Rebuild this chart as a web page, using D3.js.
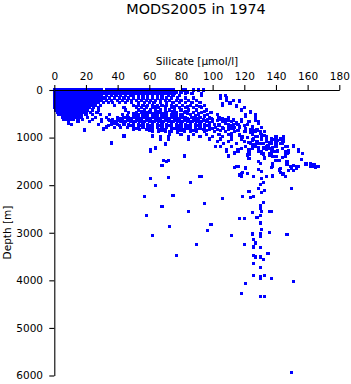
<!DOCTYPE html>
<html><head><meta charset="utf-8">
<script src="https://cdn.jsdelivr.net/npm/d3@7"></script>
<style>body{margin:0;background:#fff}svg{display:block}text{font-family:"DejaVu Sans",sans-serif}</style>
</head><body><svg id="c" width="351" height="384"></svg>
<script>
const title = "MODS2005 in 1974";
const xLabel = "Silicate [µmol/l]";
const yLabel = "Depth [m]";
const xTicks = [0,20,40,60,80,100,120,140,160,180];
const yTicks = [0,1000,2000,3000,4000,5000,6000];

// upper water column: sampled depth levels and silicate values at each
const levelDepths = [0,40,80,120,170,220,270,320,370,420,470,520,570,620,670,720,780,830,880,930,980,1030,1080,1130,1180,1230,1280,1330,
  345,445,495,545,595,645,695,750,805,855];
const levelSilicate = [
 [0,2,4,6,8,10,12,14,16,18,20,22,24,26,28,30,33,35,37,39,41,43,45,47,49,51,53,55,57,59,61,63,65,67,69,71,73,75,81,83,88,91,94],
 [0,2,4,6,8,10,12,14,16,18,20,22,24,26,28,30,32,34,36,38,40,42,44,46,48,50,52,54,56,58,60,62,64,66,68,70,72,74,77,80,84],
 [0,2,4,6,8,10,12,14,16,18,20,22,24,26,28,30,32,34,37,40,42,44,46,48,51,54,56,58,60,63,66,68,70,73,76,87,93],
 [0,2,4,6,8,10,12,14,16,18,20,22,24,26,28,30,33,36,39,42,45,48,50,53,56,59,62,65,68,72,75,79,105,108],
 [0,2,4,6,8,10,12,14,16,18,20,22,24,26,28,30,32,35,38,41,44,47,50,53,56,59,62,65,68,71,74,78,83,88,105,109],
 [0,2,4,6,8,10,12,14,16,18,20,22,24,26,28,30,33,36,40,43,46,49,52,55,58,61,64,67,70,73,77,80,85,90,109,113,117],
 [0,2,4,6,8,10,12,14,16,18,20,22,24,26,28,31,34,37,41,45,49,53,57,60,63,67,71,75,79,83,87,92,111],
 [0,2,4,6,8,10,12,14,16,18,20,22,24,26,29,38,50,53,56,59,62,65,68,71,74,77,81,86,90,95,106,115],
 [0,2,4,6,8,10,12,14,16,18,20,22,25,28,44,52,55,58,62,66,70,74,79,83,88,93,120],
 [1,3,5,7,9,11,13,15,17,19,21,24,28,45,53,57,61,64,67,70,73,76,80,85,90,96,118],
 [2,4,6,8,10,12,14,16,18,20,23,27,47,52,55,58,61,64,67,71,77,82,88,93,99,124],
 [3,5,7,9,11,13,15,17,20,24,29,35,43,50,53,56,59,62,65,68,71,74,77,80,86,91,97,103,121,127],
 [5,7,9,11,13,15,17,21,26,33,40,44,47,50,53,56,59,62,65,68,71,74,77,80,83,87,92,98,104,110],
 [6,8,10,12,15,18,24,30,34,37,40,43,46,49,52,55,58,61,64,67,70,73,76,79,82,85,88,91,94,97,100,104,108,113,118,127],
 [9,15,22,30,36,39,42,45,48,51,54,57,60,63,66,69,72,75,78,81,84,87,90,93,96,100,106,112,118,123,129],
 [11,28,36,40,44,47,50,53,56,59,62,65,68,71,74,77,80,83,86,89,92,95,98,101,104,110,116,122],
 [33,38,42,46,50,53,56,59,62,65,68,71,74,77,80,83,86,89,92,95,98,102,106,110,114,117,125,131],
 [19,31,50,54,58,62,66,70,74,78,82,86,90,94,98,103,110,124,128],
 [62,66,70,74,78,82,86,90,95,101,108,114,120,130,133],
 [73,80,88,96,104,110,117,125,131],
 [44,62,67,72,85,92,100,106,112,119,127,134,140,145],
 [67,72,98,105,112,118,126,131,137,143],
 [103,110,120,128,134,140,145],
 [36,70,107,115,124,130,137,144],
 [105,112,121,127,134,140,147,151],
 [64,118,125,132,138,144],
 [61,109,116,129,137,141,148,154],
 [114,123,131,136,146,157],
 [52,58,64,70,76,84,92],
 [55,60,66,75,83,95],
 [50,57,63,69,76,84,91],
 [46,51,57,63,69,75,81,89,95],
 [42,48,54,60,66,72,78,84,90,99,106],
 [35,41,47,53,59,65,71,77,83,89,95,103,110],
 [38,44,50,56,62,68,74,80,86,92,98,108,115],
 [34,41,48,55,61,67,73,79,85,91,97,104,112,120],
 [52,60,68,76,84,92,100,107,113,121],
 [60,68,80,88,96,105,116,126]
];

// individual samples [silicate, depth]
const midSamples = [
 [81,15],[88,0],[94,0],[93,105],[83,70],[113,225],[117,246],[111,280],[106,295],[115,337],[120,365],[118,435],[124,456],
 [121,547],[127,526],[127,561],[129,702],[127,646],[123,667],[118,667],[117,772],[125,772],[128,842],[130,877],[133,877],
 [124,842],[125,912],[113,632],[113,737],[111,807],[112,912],[114,877],[117,947],[119,996],[131,982],[134,1052],[136,1108],
 [138,1038],[140,1017],[145,982],[145,1038],[132,1122],[9,700],[19,842],[31,821],[33,779],[36,1095],[44,968],[62,968],
 [67,1010],[72,1010],[70,1137],[64,1221],[61,1263],[85,1031],[73,884],[78,884],[79,758],
 [121,860],[124,900],[127,880],[130,920],[133,950],[128,980],[122,1000],[125,1050],[131,1020],[137,1100],[140,1150],
 [143,1130],[146,1180],[128,1130],[125,1180],[132,1200],[138,1210],[135,1160],[141,1060],[144,1090],[123,1100],[126,1140],
 [129,1220],[134,1250],[137,1280],[131,1290],[136,1228],[139,1298],[141,1298],[146,1298],[148,1319],[151,1158],[154,1263],
 [157,1333],[138,1403],[140,1474],[144,1418],[147,1509],[150,1649],[153,1649],[148,1684],[151,1579],[159,1544],[162,1614],
 [166,1614],[164,1600],[129,1298],[132,1347],[129,1509],[133,1438],[137,1628],[138,1789],[131,1860],[134,1825],[146,1825],
 [142,1684],[123,1438],[123,1347],[115,1614],[117,1789],[118,1754],[121,1649],[126,1825],[102,1193],[109,1263],[110,1389],
 [123,1263],[116,1263],[114,1319],[82,1403],[93,1825],[137,1333],[140,1403],[142,1474],[138,1540],[143,1649],[143,1740],
 [149,1600],[153,1600],[159,1558],[164,1579],[166,1600],[162,1544],[122,1368],[130,1547],[131,1712],[145,1754],[156,1459],
 [147,1333],[146,1403]
];
const deepSamples = [
 [61,1284],[69,1474],[71,1509],[72,1474],[68,1579],[82,1389],[92,1825],[72,1839],[61,1860],[64,2007],[86,1944],[57,2246],
 [75,2210],[68,2449],[95,2379],[106,2273],[58,2638],[85,2561],[73,2870],[99,2821],[97,2961],[62,3052],[90,3242],[77,3480],
 [112,3059],[120,3242],[117,2701],[120,2701],[119,2238],[123,2133],[124,2259],[126,2231],[125,2582],[128,2680],[130,2793],
 [130,2435],[130,2491],[131,2561],[136,2561],[137,2561],[129,2070],[131,2147],[133,2105],[132,2365],[130,1979],[132,1944],
 [131,1860],[126,1810],[129,1670],[130,1544],[133,1418],[136,1368],[123,1333],[123,1438],[116,1614],[114,1628],[117,1768],
 [118,1810],[119,1740],[121,1628],[122,1754],[126,1825],[110,1389],[138,1600],[138,1810],[142,1670],[144,1768],[146,1810],
 [147,1558],[150,1600],[151,1684],[154,1600],[156,1459],[159,1558],[162,1579],[164,1558],[167,1600],[165,1628],[150,2070],
 [147,3031],[151,4021],[150,5930],[125,3031],[130,3087],[130,3052],[136,2996],[126,3143],[127,3214],[126,3298],[130,3312],
 [135,3438],[126,3473],[127,3508],[130,3508],[132,3565],[126,3649],[130,3733],[126,3894],[130,3915],[130,3965],[133,3894],
 [137,3965],[121,4070],[118,4281],[130,4337],[133,4337],[109,1277],[116,1277],[130,2631],[131,2926],[130,3017],[125,3017]
];

const svg = d3.select("#c");
const x = d3.scaleLinear().domain([0,180]).range([54.3,339.3]);
const y = d3.scaleLinear().domain([0,6000]).range([90,375.5]);

const points = [];
levelDepths.forEach((d,i)=>levelSilicate[i].forEach(v=>points.push([v,d])));
midSamples.forEach(p=>points.push(p));
deepSamples.forEach(p=>points.push(p));

const half = 1.6;
const edge = (c, s) => [Math.round(c - s), Math.round(c + s)];
svg.append("g").attr("shape-rendering","crispEdges").selectAll("rect").data(points).join("rect")
  .each(function(d){
    const [x0,x1] = edge(x(d[0]), half), [y0,y1] = edge(y(d[1]), half);
    d3.select(this).attr("x",x0).attr("y",y0).attr("width",x1-x0).attr("height",y1-y0);
  })
  .attr("fill", "#0000ff");

const gx = svg.append("g").attr("transform","translate(0,90)")
  .call(d3.axisTop(x).tickValues(xTicks).tickSize(5).tickSizeOuter(0).tickPadding(5.5));
const gy = svg.append("g").attr("transform","translate(54.3,0)")
  .call(d3.axisLeft(y).tickValues(yTicks).tickSize(5).tickSizeOuter(0).tickPadding(6.3).tickFormat(d3.format("d")));
[gx,gy].forEach(g=>{
  g.selectAll("path,line").attr("stroke","#000").attr("stroke-width",1.1);
  g.selectAll("text").attr("fill","#000").style("font-family","'DejaVu Sans',sans-serif").style("font-size","10.5px");
});

svg.append("text").attr("x",196).attr("y",13.5).attr("text-anchor","middle")
  .style("font-size","14.4px").text(title);
svg.append("text").attr("x",197).attr("y",65).attr("text-anchor","middle")
  .style("font-size","10.5px").text(xLabel);
svg.append("text").attr("transform","translate(10.8,232.5) rotate(-90)").attr("text-anchor","middle")
  .style("font-size","10.5px").text(yLabel);
</script></body></html>
